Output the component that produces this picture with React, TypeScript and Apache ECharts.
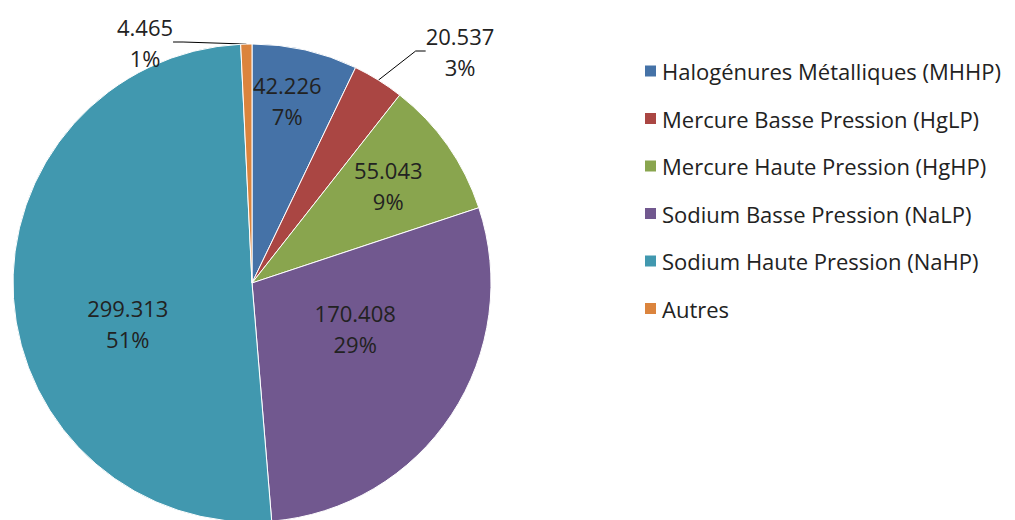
import React, { useEffect, useRef } from "react";
import * as echarts from "echarts";

const categories = [
  "Halogénures Métalliques (MHHP)",
  "Mercure Basse Pression (HgLP)",
  "Mercure Haute Pression (HgHP)",
  "Sodium Basse Pression (NaLP)",
  "Sodium Haute Pression (NaHP)",
  "Autres",
];
const values = [42.226, 20.537, 55.043, 170.408, 299.313, 4.465];
const colors = ["#4572A7", "#AA4643", "#89A54E", "#71588F", "#4198AF", "#DB843D"];
const outsideLabel = [false, true, false, false, false, true];

// label placement tweaks (Excel best-fit imitation)
const labelShift: Record<number, any> = {
  0: { dx: 8, dy: -63 },
  1: { x: 460, y: 51 },
  2: { dx: 36, dy: -27 },
  3: { dx: 1, dy: -22 },
  4: { dx: -2, dy: 33 },
  5: { x: 145, y: 42 },
};

const FONT = "Open Sans";
const TEXT = "#222222";

export default function App() {
  const ref = useRef<HTMLDivElement>(null);
  useEffect(() => {
    if (!ref.current) return;
    const chart = echarts.init(ref.current, undefined, { renderer: "svg" });
    const total = values.reduce((a, b) => a + b, 0);
    const data = categories.map((name, i) => ({
      name,
      value: values[i],
      itemStyle: { color: colors[i] },
      label: { position: outsideLabel[i] ? "outside" : "inside" },
      labelLine: outsideLabel[i]
        ? { show: true, length: 20, length2: 10, lineStyle: { color: "#000", width: 1 } }
        : { show: false },
    }));
    chart.setOption({
      animation: false,
      backgroundColor: "#fff",
      legend: {
        orient: "vertical",
        left: 638,
        top: 54,
        icon: "rect",
        itemWidth: 13,
        itemHeight: 13,
        itemGap: 23.5,
        data: categories,
        textStyle: { fontFamily: FONT, fontSize: 22, color: TEXT, lineHeight: 24 },
      },
      series: [
        {
          type: "pie",
          center: [252, 283],
          radius: 239,
          startAngle: 90,
          clockwise: true,
          avoidLabelOverlap: false,
          itemStyle: { borderColor: "#fff", borderWidth: 1 },
          label: {
            show: true,
            fontFamily: FONT,
            fontSize: 22,
            color: TEXT,
            lineHeight: 31,
            align: "center",
            formatter: (p: any) =>
              `${(p.value as number).toFixed(3)}\n${Math.round((p.value / total) * 100)}%`,
          },
          labelLayout: (params: any) => {
            const s = labelShift[params.dataIndex] || {};
            return { ...s, align: "center", verticalAlign: "middle" };
          },
          data,
        },
      ],
    });
    return () => chart.dispose();
  }, []);
  return (
    <div
      ref={ref}
      style={{ position: "fixed", left: 0, top: 0, width: 1015, height: 520 }}
    />
  );
}
